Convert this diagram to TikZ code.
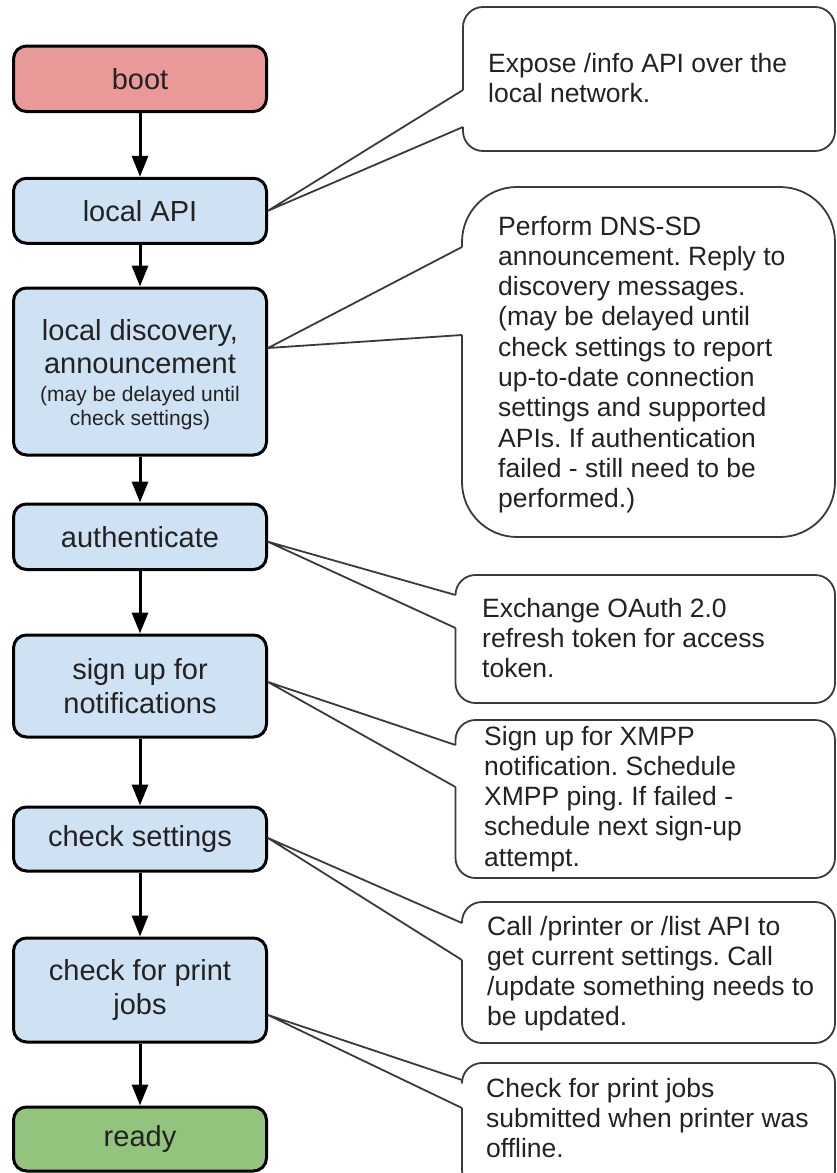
\documentclass[tikz,border=0pt]{standalone}
\usepackage{fontspec}
\setmainfont{Liberation Sans}
\usetikzlibrary{arrows.meta}
\frenchspacing

\definecolor{bootred}{HTML}{EA9999}
\definecolor{stepblue}{HTML}{CFE2F3}
\definecolor{readygreen}{HTML}{93C47D}
\definecolor{inkgray}{HTML}{222222}
\definecolor{linegray}{HTML}{3A3A3A}

\tikzset{
  stage/.style={draw=black, line width=3pt, rounded corners=13pt, fill=stepblue,
    minimum width=253pt, text width=245pt, align=flush center, inner sep=0pt,
    text=inkgray, font=\fontsize{29}{33.5}\selectfont},
  flow/.style={line width=3pt, -{Triangle[length=21pt,width=16pt]}},
  noteline/.style={draw=linegray, line width=1.8pt, line join=round},
  note/.style={anchor=base west, text width=345pt, align=flush left, inner sep=0pt,
    text=inkgray, font=\fontsize{26.5}{30.3}\selectfont},
}

% speech box: left, top, right, bottom, corner radius, tail base (upper y), tail base (lower y), tail tip
\newcommand\speechbox[8]{%
  \draw[noteline, rounded corners=#5pt] (#1,#7) -- (#1,#4) -- (#3,#4)
    -- (#3,#2) -- (#1,#2) -- (#1,#6);
  \draw[noteline] (#1,#6) -- (#8) -- (#1,#7);
}
\newcommand\smallnote{\fontsize{21}{24.5}\selectfont}

\begin{document}
\begin{tikzpicture}[x=1pt,y=-1pt]
\useasboundingbox (0,0) rectangle (836,1173);
\clip (0,0) rectangle (836,1173);

% stages of the start-up sequence
\node[stage, fill=bootred, minimum height=65.5pt] (boot) at (140,78.75) {boot};
\node[stage, minimum height=65pt] (api) at (140,210.75) {local API};
\node[stage, minimum height=167pt] (disc) at (140,371.5)
  {\raisebox{0pt}[27pt]{local discovery,}\\announcement\\[-6pt]%
   \mbox{\smallnote (may be delayed until}\\[-9.5pt]\mbox{\smallnote check settings)}};
\node[stage, minimum height=65.5pt] (auth) at (140,536.75) {authenticate};
\node[stage, minimum height=102pt] (signup) at (140,686) {sign up for\\notifications};
\node[stage, minimum height=64pt] (settings) at (140,839) {check settings};
\node[stage, minimum height=104pt] (jobs) at (140,990) {check for print\\jobs};
\node[stage, fill=readygreen, minimum height=64pt] (ready) at (140,1139) {ready};

\foreach \a/\b in {boot/api, api/disc, disc/auth, auth/signup,
                   signup/settings, settings/jobs, jobs/ready}
  \draw[flow] (\a) -- (\b);

% where each comment's tail meets its stage
\coordinate (tip1) at (api.east);
\coordinate (tip2) at ([yshift=23.5pt]disc.east);
\coordinate (tip3) at ([yshift=-5pt]auth.east);
\coordinate (tip4) at ([yshift=4pt]signup.east);
\coordinate (tip5) at ([yshift=1pt]settings.east);
\coordinate (tip6) at ([yshift=-25pt]jobs.east);

\speechbox{463}{7}{835}{151}{20}{90}{127}{tip1}
\speechbox{462}{187}{835}{537}{55}{247}{335}{tip2}
\speechbox{455.5}{575}{835}{703}{20}{595}{628}{tip3}
\speechbox{455.5}{720}{835}{878}{20}{745}{787}{tip4}
\speechbox{462}{902}{835}{1043}{20}{923}{960}{tip5}
\speechbox{462}{1063}{835}{1190}{20}{1080}{1108}{tip6}

% comment texts
\node[note] (n1) at (488,72) {Expose /info API over the\\local network.};
\node[note] (n2) at (498,235) {Perform DNS-SD\\announcement. Reply to\\discovery messages.\\(may be delayed until\\check settings to report\\up-to-date connection\\settings and supported\\APIs. If authentication\\failed - still need to be\\performed.)};
\node[note] (n3) at (482,617) {Exchange OAuth 2.0\\refresh token for access\\token.};
\node[note] (n4) at (484,745) {Sign up for XMPP\\notification. Schedule\\XMPP ping. If failed -\\schedule next sign-up\\attempt.};
\node[note] (n5) at (487,935) {Call /printer or /list API to\\get current settings. Call\\/update something needs to\\be updated.};
\node[note] (n6) at (486,1097) {Check for print jobs\\submitted when printer was\\offline.};
\end{tikzpicture}
\end{document}
